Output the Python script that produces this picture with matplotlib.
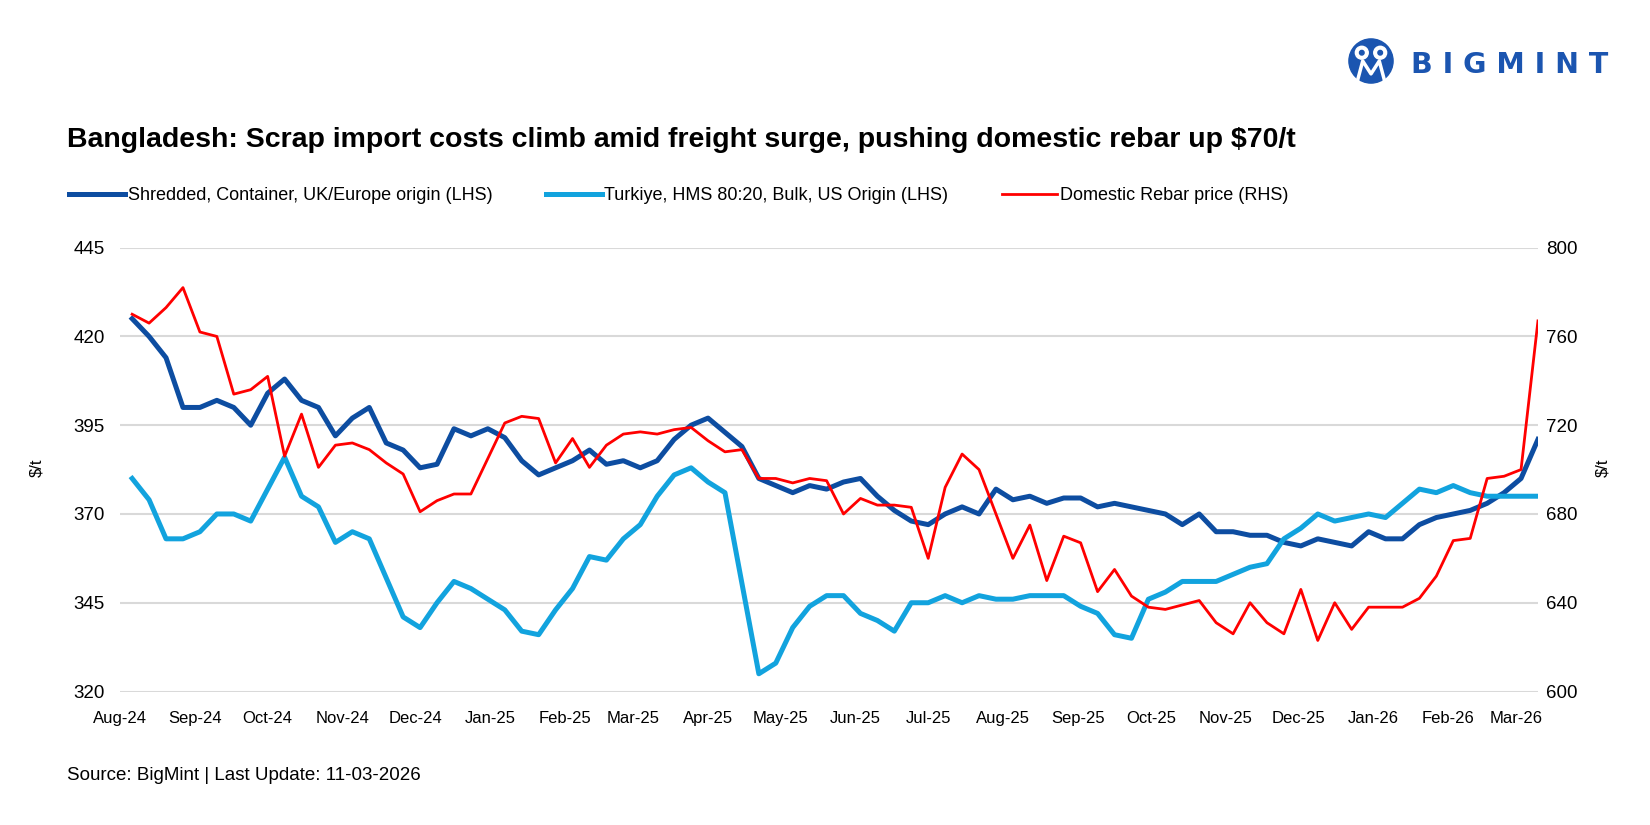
import pandas as pd
import matplotlib.pyplot as plt
import matplotlib.dates as mdates
from matplotlib.patches import Circle

plt.rcParams['font.family'] = ['Liberation Sans', 'DejaVu Sans']

# weekly prices, Aug-24 .. Mar-26
dates = pd.date_range('2024-08-06', periods=84, freq='7D')

shredded = [425, 420, 414, 400, 400, 402, 400, 395, 404, 408,
            402, 400, 392, 397, 400, 390, 388, 383, 384, 394,
            392, 394, 391.5, 385, 381, 383, 385, 388, 384, 385,
            383, 385, 391, 395, 397, 393, 389, 380, 378, 376,
            378, 377, 379, 380, 375, 371, 368, 367, 370, 372,
            370, 377, 374, 375, 373, 374.5, 374.5, 372, 373, 372,
            371, 370, 367, 370, 365, 365, 364, 364, 362, 361,
            363, 362, 361, 365, 363, 363, 367, 369, 370, 371,
            373, 376, 380, 391]

turkiye = [380, 374, 363, 363, 365, 370, 370, 368, 377, 386,
           375, 372, 362, 365, 363, 352, 341, 338, 345, 351,
           349, 346, 343, 337, 336, 343, 349, 358, 357, 363,
           367, 375, 381, 383, 379, 376, 350.5, 325, 328, 338,
           344, 347, 347, 342, 340, 337, 345, 345, 347, 345,
           347, 346, 346, 347, 347, 347, 344, 342, 336, 335,
           346, 348, 351, 351, 351, 353, 355, 356, 363, 366,
           370, 368, 369, 370, 369, 373, 377, 376, 378, 376,
           375, 375, 375, 375]

rebar = [770, 766, 773, 782, 762, 760, 734, 736, 742, 706,
         725, 701, 711, 712, 709, 703, 698, 681, 686, 689,
         689, 705, 721, 724, 723, 703, 714, 701, 711, 716,
         717, 716, 718, 719, 713, 708, 709, 696, 696, 694,
         696, 695, 680, 687, 684, 684, 683, 660, 692, 707,
         700, 680, 660, 675, 650, 670, 667, 645, 655, 643,
         638, 637, 639, 641, 631, 626, 640, 631, 626, 646,
         623, 640, 628, 638, 638, 638, 642, 652, 668, 669,
         696, 697, 700, 767]

labels = ['Shredded, Container, UK/Europe origin (LHS)',
          'Turkiye, HMS 80:20, Bulk, US Origin (LHS)',
          'Domestic Rebar price (RHS)']

fig = plt.figure(figsize=(16.5, 8.25), dpi=100)
ax = fig.add_axes([0.0727, 0.1618, 0.8594, 0.538])
ax2 = ax.twinx()

l1, = ax.plot(dates, shredded, color='#0D4DA1', lw=3.6)
l2, = ax.plot(dates, turkiye, color='#12A3DE', lw=3.6)
l3, = ax2.plot(dates, rebar, color='#FF0000', lw=2.0)

ax.set_ylim(320, 445)
ax.set_yticks(range(320, 446, 25))
ax2.set_ylim(600, 800)
ax2.set_yticks(range(600, 801, 40))
ax.set_xlim(pd.Timestamp('2024-07-31 23:00'), dates[-1])
ax.xaxis.set_major_locator(mdates.MonthLocator())
ax.xaxis.set_major_formatter(mdates.DateFormatter('%b-%y'))
ax.grid(axis='y', color='#D9D9D9', lw=1.5)
ax.set_axisbelow(True)
for a in (ax, ax2):
    for s in a.spines.values():
        s.set_visible(False)
ax.tick_params(axis='x', length=0, pad=14, labelsize=12)
ax.tick_params(axis='y', length=0, pad=11, labelsize=13.5)
ax2.tick_params(axis='y', length=0, pad=6, labelsize=13.5)

fig.text(37 / 1650, 1 - 468 / 825, '$/t', rotation=90, fontsize=12, ha='center', va='center')
fig.text(1603 / 1650, 1 - 468 / 825, '$/t', rotation=90, fontsize=12, ha='center', va='center')

fig.text(67 / 1650, 1 - 140 / 825,
         'Bangladesh: Scrap import costs climb amid freight surge, pushing domestic rebar up $70/t',
         fontsize=20.5, fontweight='bold', va='center')

fig.legend([l1, l2, l3], labels, loc='center left', bbox_to_anchor=(69 / 1650, 1 - 196 / 825),
           ncol=3, frameon=False, fontsize=13, handlelength=3.1, handletextpad=0.15,
           columnspacing=2.95, borderaxespad=0, borderpad=0)

fig.text(67 / 1650, 1 - 775 / 825, 'Source: BigMint | Last Update: 11-03-2026',
         fontsize=13.5, va='center')

# logo
logo_blue = '#1B55B0'
lax = fig.add_axes([1348 / 1650, (825 - 84) / 825, 46 / 1650, 46 / 825])
lax.set_xlim(0, 1)
lax.set_ylim(0, 1)
lax.axis('off')
lax.add_patch(Circle((0.5, 0.5), 0.48, color=logo_blue))
lax.add_patch(Circle((0.3, 0.68), 0.14, color='white'))
lax.add_patch(Circle((0.7, 0.68), 0.14, color='white'))
lax.add_patch(Circle((0.3, 0.68), 0.05, color=logo_blue))
lax.add_patch(Circle((0.7, 0.68), 0.05, color=logo_blue))
lax.plot([0.2, 0.32, 0.5, 0.68, 0.8], [0.05, 0.5, 0.22, 0.5, 0.05], color='white', lw=2.5)
fig.text(1411 / 1650, 1 - 65 / 825, 'B I G M I N T', fontsize=20.5, fontweight='bold',
         family='DejaVu Sans', color=logo_blue, va='center')

fig.savefig('out.png', dpi=100)
